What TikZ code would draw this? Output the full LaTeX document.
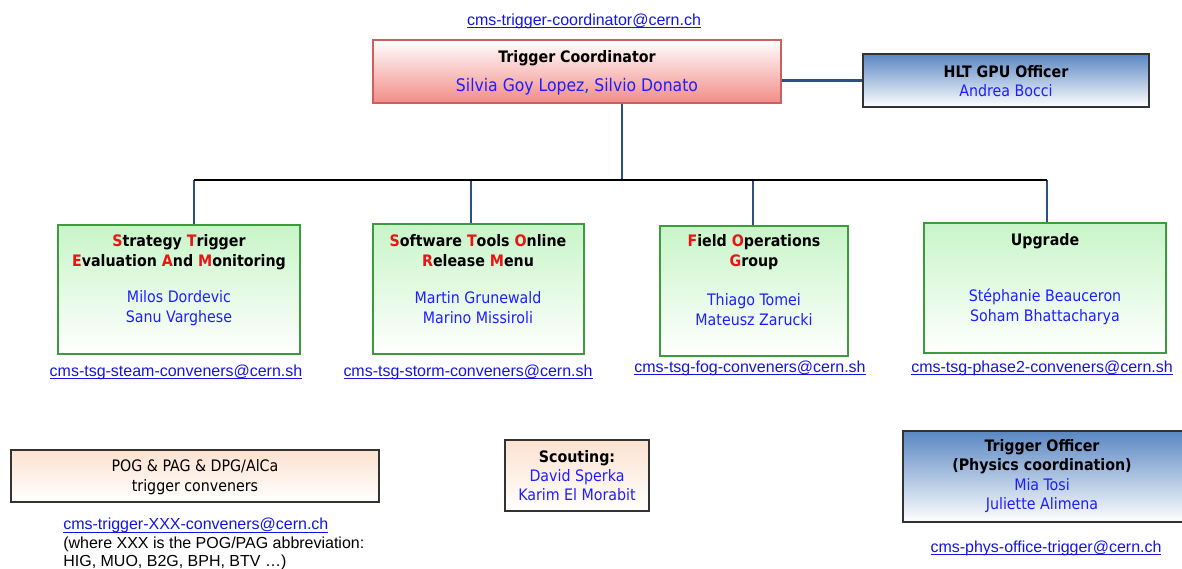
\documentclass[tikz,border=0pt]{standalone}
\usepackage{fontspec}
\setmainfont{DejaVu Sans Condensed}
\newfontfamily\arialfont{Liberation Sans}
\usetikzlibrary{positioning,fit}

\definecolor{linkblue}{RGB}{20,20,225}
\definecolor{nameblue}{RGB}{30,30,255}
\definecolor{lineblue}{RGB}{45,80,130}
\definecolor{initred}{RGB}{235,20,20}
\definecolor{tcborder}{RGB}{205,95,95}
\definecolor{tcfill}{RGB}{242,140,135}
\definecolor{offblue}{RGB}{90,135,195}
\definecolor{grborder}{RGB}{60,155,60}
\definecolor{grfill}{RGB}{200,245,200}
\definecolor{peach}{RGB}{252,226,208}

\newsavebox{\mailbox}
\newcommand{\mail}[1]{\sbox{\mailbox}{#1}\rlap{\rule[-1.6pt]{\wd\mailbox}{0.45pt}}\usebox{\mailbox}}
\newcommand{\ini}[1]{\textcolor{initred}{#1}}

\begin{document}
\begin{tikzpicture}[x=0.02cm,y=-0.02cm,thin]
\tikzstyle{every node}=[font=\fontsize{9}{11.4}\selectfont]
\tikzstyle{box}=[draw, rectangle, inner sep=0pt, line width=0.7pt]
\tikzstyle{coordbox}=[box, draw=tcborder, top color=white, bottom color=tcfill]
\tikzstyle{officebox}=[box, draw=black!80, top color=offblue, bottom color=white]
\tikzstyle{groupbox}=[box, draw=grborder, top color=grfill, bottom color=white]
\tikzstyle{peachbox}=[box, draw=black!80, top color=peach, bottom color=white]
\tikzstyle{title}=[font=\fontsize{9}{11.4}\selectfont\bfseries, align=center, inner sep=0pt]
\tikzstyle{names}=[text=nameblue, align=center, inner sep=0pt]
\tikzstyle{mail}=[font=\arialfont\fontsize{9.1}{10.5}\selectfont, text=linkblue, inner sep=0pt]
\tikzstyle{conn}=[draw=lineblue, line width=1.3pt]
\tikzstyle{bus}=[draw=black, line width=1.5pt]

\useasboundingbox (0,0) rectangle (1182,568);

% coordinator and GPU officer
\node[mail] (coordmail) at (584,21) {\mail{cms-trigger-coordinator@cern.ch}};
\node[coordbox, fit={(373,40) (781,103)}] (coord) {};
\node[title] (coordT) at (577,58) {Trigger Coordinator};
\node[names, font=\fontsize{9.9}{12}\selectfont] (coordN) at (577,87) {Silvia Goy Lopez, Silvio Donato};

\node[officebox, fit={(863,54) (1149,107)}] (hlt) {};
\node[title] (hltT) at (1006,72) {HLT GPU Officer};
\node[names] (hltN) at (1006,91) {Andrea Bocci};

% groups
\node[groupbox, fit={(58,225) (300,354)}] (steam) {};
\node[title] (steamT) at (179,252) {\ini{S}trategy \ini{T}rigger\\\ini{E}valuation \ini{A}nd \ini{M}onitoring};
\node[names] (steamN) at (179,308) {Milos Dordevic\\Sanu Varghese};
\node[mail] (steammail) at (176,372) {\mail{cms-tsg-steam-conveners@cern.sh}};

\node[groupbox, fit={(373,224) (584,354)}] (storm) {};
\node[title] (stormT) at (478,251) {\ini{S}oftware \ini{T}ools \ini{O}nline\\\ini{R}elease \ini{M}enu};
\node[names] (stormN) at (478,308) {Martin Grunewald\\Marino Missiroli};
\node[mail] (stormmail) at (468,372) {\mail{cms-tsg-storm-conveners@cern.sh}};

\node[groupbox, fit={(660,226) (848,356)}] (fog) {};
\node[title] (fogT) at (754,252.5) {\ini{F}ield \ini{O}perations\\\ini{G}roup};
\node[names] (fogN) at (754,310) {Thiago Tomei\\Mateusz Zarucki};
\node[mail] (fogmail) at (750,368) {\mail{cms-tsg-fog-conveners@cern.sh}};

\node[groupbox, fit={(924,223) (1166,353)}] (upg) {};
\node[title] (upgT) at (1045,241) {Upgrade};
\node[names] (upgN) at (1045,307) {Stéphanie Beauceron\\Soham Bhattacharya};
\node[mail] (upgmail) at (1042,368) {\mail{cms-tsg-phase2-conveners@cern.sh}};

% connectors
\coordinate (hub) at (622,180);
\coordinate (d1) at (194,180);
\coordinate (d2) at (471,180);
\coordinate (d3) at (753,180);
\coordinate (d4) at (1047,180);
\path[conn] (hlt.west) edge (hlt.west -| coord.east)
  (hub) edge (hub |- coord.south)
  (d1) edge (d1 |- steam.north)
  (d2) edge (d2 |- storm.north)
  (d3) edge (d3 |- fog.north)
  (d4) edge (d4 |- upg.north);
\draw[bus] (d1) -- (d4);

% bottom row
\node[peachbox, fit={(11,450) (379,502)}] (pog) {};
\node[align=center, inner sep=0pt] (pogT) at (195,477) {POG \& PAG \& DPG/AlCa\\trigger conveners};
\node[mail, text=black, align=left, anchor=west, font=\arialfont\fontsize{9.1}{10.6}\selectfont] (pogmail) at (63,544)
  {\textcolor{linkblue}{\mail{cms-trigger-XXX-conveners@cern.ch}}\\(where XXX is the POG/PAG abbreviation:\\HIG, MUO, B2G, BPH, BTV …)};

\node[peachbox, fit={(505,440) (649,511)}] (scout) {};
\node[names, text=black, font=\fontsize{9}{10.6}\selectfont] (scoutT) at (577,475.5) {\textbf{Scouting:}\\\textcolor{nameblue}{David Sperka}\\\textcolor{nameblue}{Karim El Morabit}};

\node[officebox, fit={(903,431) (1185,522)}] (phys) {};
\node[names, text=black, font=\fontsize{9}{10.9}\selectfont] (physT) at (1042,476) {\textbf{Trigger Officer}\\\textbf{(Physics coordination)}\\\textcolor{nameblue}{Mia Tosi}\\\textcolor{nameblue}{Juliette Alimena}};
\node[mail] (physmail) at (1046,548) {\mail{cms-phys-office-trigger@cern.ch}};
\end{tikzpicture}
\end{document}
